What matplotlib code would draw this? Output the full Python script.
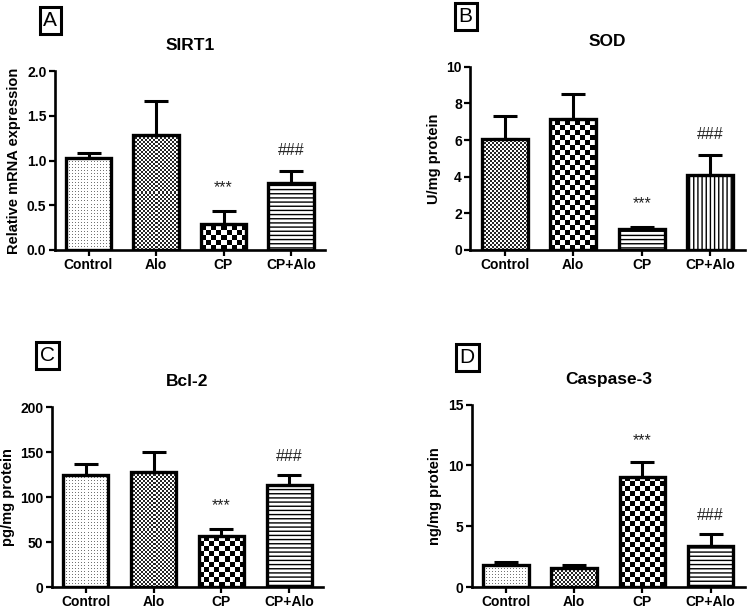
import numpy as np
import matplotlib.pyplot as plt

plt.rcParams['font.family'] = ['Liberation Sans', 'DejaVu Sans']
plt.rcParams['hatch.linewidth'] = 1.0

groups = ["Control", "Alo", "CP", "CP+Alo"]

# panel data: mean and upper error (SD)
sirt1_mean = [1.03, 1.28, 0.29, 0.75]
sirt1_err = [0.05, 0.39, 0.14, 0.13]
sod_mean = [6.05, 7.15, 1.12, 4.1]
sod_err = [1.25, 1.35, 0.12, 1.1]
bcl2_mean = [125, 128, 57, 113]
bcl2_err = [12, 22, 8, 12]
casp3_mean = [1.8, 1.6, 9.05, 3.35]
casp3_err = [0.25, 0.2, 1.2, 1.0]

# significance marks: (bar index, text, y)
sirt1_marks = [(2, "***", 0.70), (3, "###", 1.11)]
sod_marks = [(2, "***", 2.5), (3, "###", 6.3)]
bcl2_marks = [(2, "***", 90), (3, "###", 145)]
casp3_marks = [(2, "***", 12.0), (3, "###", 5.85)]

# fill style per bar
sirt1_fill = ["dots", "fine", "coarse", "hlines"]
sod_fill = ["fine", "coarse", "hlines", "vlines"]
bcl2_fill = ["dots", "fine", "coarse", "hlines"]
casp3_fill = ["dots", "fine", "coarse", "hlines"]


def texture(kind, w, h):
    yy, xx = np.mgrid[0:h, 0:w]
    if kind == "dots":
        return np.where((xx % 3 == 0) & (yy % 3 == 0), 0.45, 1.0)
    if kind == "fine":
        return np.where(((xx // 2) + (yy // 2)) % 2 == 0, 0.15, 1.0)
    return np.where(((xx // 5) + (yy // 5)) % 2 == 0, 0.0, 1.0)


def panel(fig, rect, title, ylabel, means, errs, fills, marks, ymax, ystep, letter, lpos):
    ax = fig.add_axes(rect)
    x = np.arange(len(groups))
    ax.set_xlim(-0.5, 3.5)
    ax.set_ylim(0, ymax)
    bars = ax.bar(x, means, width=0.67, color="white", edgecolor="none", zorder=1)
    for b, kind in zip(bars, fills):
        if kind in ("hlines", "vlines"):
            b.set_hatch("----" if kind == "hlines" else "||||")
            b.set_edgecolor("black")
            b.set_linewidth(0)
            continue
        x0, y0 = b.get_x(), b.get_y()
        x1, y1 = x0 + b.get_width(), y0 + b.get_height()
        p0 = ax.transData.transform((x0, y0))
        p1 = ax.transData.transform((x1, y1))
        w = max(int(round(p1[0] - p0[0])), 1)
        h = max(int(round(p1[1] - p0[1])), 1)
        ax.imshow(texture(kind, w, h), cmap="gray", vmin=0, vmax=1,
                  extent=(x0, x1, y0, y1), origin="lower", interpolation="nearest",
                  aspect="auto", zorder=2, clip_path=b)
    ax.bar(x, means, width=0.67, fill=False, edgecolor="black", linewidth=2.4, zorder=3)
    ax.errorbar(x, means, yerr=[np.zeros(len(errs)), errs], fmt="none", ecolor="black",
                elinewidth=2.2, capsize=8.5, capthick=2.2, zorder=2.5)
    for i, txt, y in marks:
        ax.text(x[i], y, txt, ha="center", va="center", fontsize=11.5, color="#222222")
    ax.set_xlim(-0.5, 3.5)
    ax.set_ylim(0, ymax)
    ax.set_aspect("auto")
    ax.set_yticks(np.arange(0, ymax + ystep / 2, ystep))
    if ystep < 1:
        ax.set_yticklabels([f"{v:.1f}" for v in np.arange(0, ymax + ystep / 2, ystep)])
    ax.set_xticks(x)
    ax.set_xticklabels(groups)
    for lab in ax.get_xticklabels() + ax.get_yticklabels():
        lab.set_fontweight("bold")
        lab.set_fontsize(10)
    ax.tick_params(width=1.6, length=4, pad=2)
    for s in ["top", "right"]:
        ax.spines[s].set_visible(False)
    for s in ["left", "bottom"]:
        ax.spines[s].set_linewidth(1.9)
    ax.set_ylabel(ylabel, fontsize=10.5, fontweight="bold", labelpad=4)
    ax.set_title(title, fontsize=12.5, fontweight="bold", pad=15)
    fig.text(lpos[0], lpos[1], letter, fontsize=15, ha="center", va="center",
             bbox=dict(boxstyle="square,pad=0.18", fc="white", ec="black", lw=2.2))
    return ax


fig = plt.figure(figsize=(7.5, 6.08), dpi=100)
panel(fig, [0.073, 0.589, 0.36, 0.294], "SIRT1", "Relative mRNA expression",
      sirt1_mean, sirt1_err, sirt1_fill, sirt1_marks, 2.0, 0.5, "A", (0.067, 0.966))
panel(fig, [0.627, 0.589, 0.366, 0.301], "SOD", "U/mg protein",
      sod_mean, sod_err, sod_fill, sod_marks, 10, 2, "B", (0.621, 0.973))
panel(fig, [0.069, 0.0345, 0.362, 0.296], "Bcl-2", "pg/mg protein",
      bcl2_mean, bcl2_err, bcl2_fill, bcl2_marks, 200, 50, "C", (0.063, 0.415))
panel(fig, [0.629, 0.0345, 0.364, 0.3], "Caspase-3", "ng/mg protein",
      casp3_mean, casp3_err, casp3_fill, casp3_marks, 15, 5, "D", (0.623, 0.412))

fig.savefig("out.png", dpi=100)
